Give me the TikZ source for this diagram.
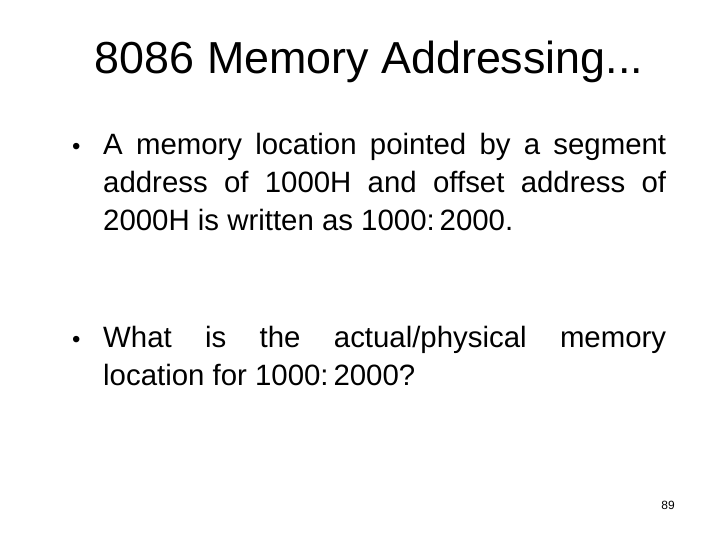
\documentclass[tikz,border=0pt]{standalone}
\usepackage{fontspec}
\setmainfont{Liberation Sans}
\begin{document}
\begin{tikzpicture}[x=1bp,y=-1bp,
  body/.style={inner sep=0, anchor=north west, text width=563bp, align=justify, font=\fontsize{29.5}{38}\selectfont},
  bul/.style={inner sep=0, anchor=north west, font=\fontsize{24}{38}\selectfont}]
\useasboundingbox[fill=white] (0,0) rectangle (720,540);
\node[font=\fontsize{45}{52}\selectfont] (title) at (369,62) {8086 Memory Addressing...};
\node[bul] (b1) at (72,143) {•};
\node[body] (t1) at (103,133) {\hyphenpenalty=10000 A memory location pointed by a segment\linebreak address of 1000H and offset address of\linebreak 2000H is written as 1000:\,2000.\par};
\node[bul] (b2) at (72,336) {•};
\node[body] (t2) at (103,326) {\hyphenpenalty=10000 What is the actual/physical memory\linebreak location for 1000:\,2000?\par};
\node[font=\fontsize{12}{14}\selectfont] (pg) at (668,505) {89};
\end{tikzpicture}
\end{document}
